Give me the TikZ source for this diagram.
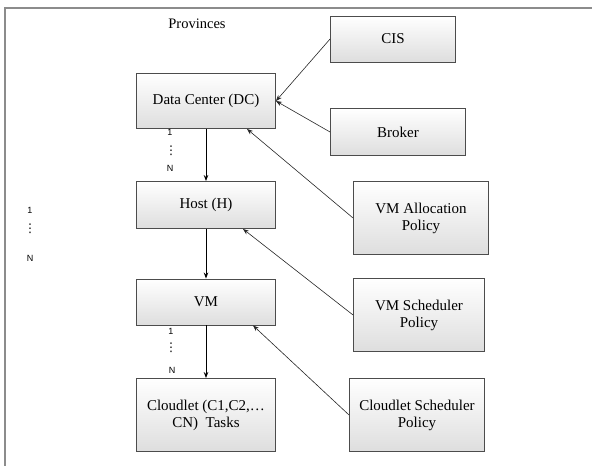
\documentclass[tikz,border=0pt]{standalone}
\usepackage{fontspec}
\setmainfont{Liberation Serif}
\setsansfont{Liberation Sans}
\newfontfamily\symfont{DejaVu Sans}
\usetikzlibrary{positioning,arrows.meta}

\tikzset{
  unit/.style={draw=black!70, line width=0.9pt, top color=white, bottom color=black!13,
    minimum width=139pt, inner sep=0pt, align=center, font=\fontsize{15}{17}\selectfont},
  mult/.style={font=\sffamily\fontsize{9}{10}\selectfont, inner sep=0pt},
  dotsv/.style={font=\symfont\fontsize{12}{12}\selectfont, inner sep=0pt},
  link/.style={-{Stealth[length=6pt,width=4.5pt]}, line width=0.9pt},
  feed/.style={-{Stealth[length=6pt,width=4.5pt]}, line width=0.6pt, black!85},
}

\begin{document}
\begin{tikzpicture}[x=1pt,y=-1pt,on grid]
  \useasboundingbox (0,0) rectangle (592,466);
  % frame of the provinces
  \draw[black!45, line width=1.4pt] (592,8) -- (5,8) -- (5,466);
  \node (prov) at (197,24) {\fontsize{14.5}{16}\selectfont Provinces};

  % main column
  \node[unit, minimum height=55pt] (dc) at (206,101) {Data Center (DC)};
  \node[unit, minimum height=47pt] (host) [below=104pt of dc] {Host (H)};
  \node[unit, minimum height=46pt] (vm) [below=97pt of host] {VM};
  \node[unit, minimum height=73pt] (cl) [below=113pt of vm] {Cloudlet (C1,C2,\dots\\CN)\enspace Tasks};

  % policies
  \node[unit, minimum width=125pt, minimum height=46pt] (cis) [above right=62pt and 187pt of dc] {CIS};
  \node[unit, minimum width=135pt, minimum height=47pt] (broker) [below right=31pt and 192pt of dc] {Broker};
  \node[unit, minimum width=135pt, minimum height=73pt] (alloc) [below right=13pt and 215pt of host] {VM Allocation\\Policy};
  \node[unit, minimum width=131pt, minimum height=73pt] (vmsched) [below right=13pt and 213pt of vm] {VM Scheduler\\Policy};
  \node[unit, minimum width=135pt, minimum height=73pt] (clsched) [right=211pt of cl] {Cloudlet Scheduler\\Policy};

  \path[link] (dc) edge (host)
              (host) edge (vm)
              (vm) edge (cl);
  \draw[feed] (cis.west) -- (dc.east);
  \draw[feed] (broker.west) -- (dc.east);
  \draw[feed] (alloc.west) -- ([xshift=41pt]dc.south);
  \draw[feed] (vmsched.west) -- ([xshift=37pt]host.south);
  \draw[feed] (clsched.west) -- ([xshift=47pt]vm.south);

  % multiplicities
  \node[mult] (dcone) at (170,132) {1};
  \node[dotsv] (dcdots) at (171,151) {⋮};
  \node[mult] (dcn) at (170,168) {N};
  \node[mult] (provone) at (30,210) {1};
  \node[dotsv] (provdots) at (30,229) {⋮};
  \node[mult] (provn) at (30,258) {N};
  \node[mult] (vmone) at (171,331) {1};
  \node[dotsv] (vmdots) at (171,348) {⋮};
  \node[mult] (vmn) at (172,370) {N};
\end{tikzpicture}
\end{document}
